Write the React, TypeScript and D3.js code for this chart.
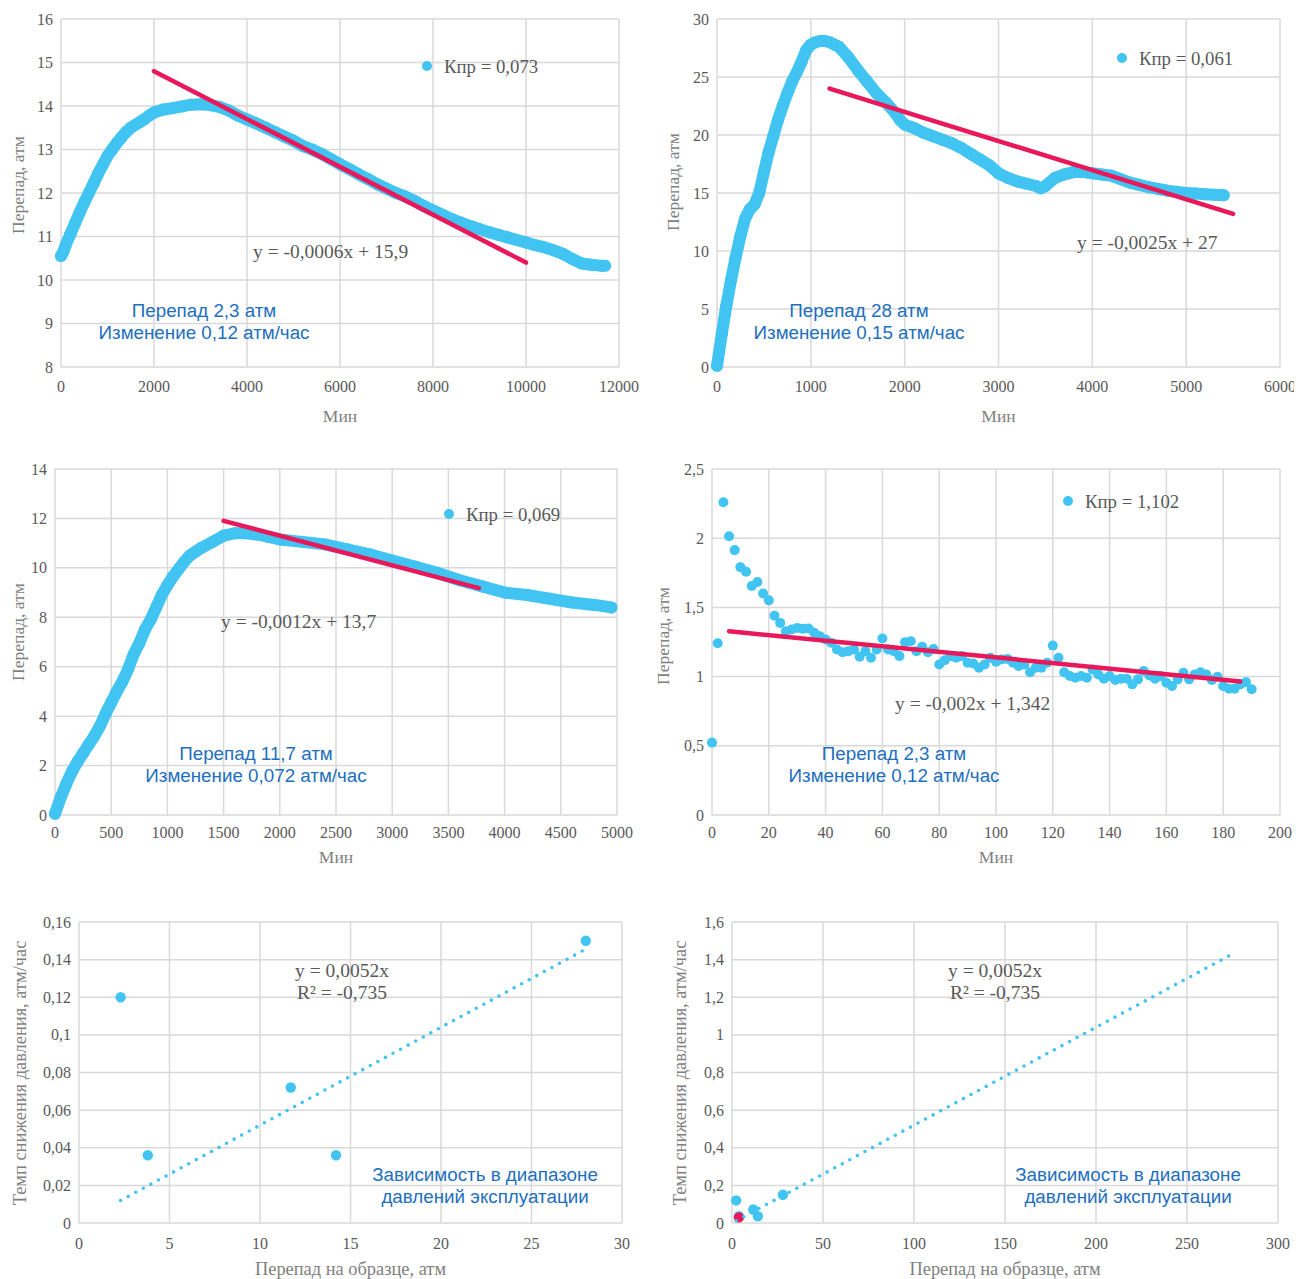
import React from 'react';
import * as d3 from 'd3';

// ---------- DATA ----------
// Panel 1 (dense series): minutes / pressure drop, atm
const P1_X = [0, 50, 100, 200, 300, 400, 500, 600, 700, 800, 900, 1000, 1100, 1200, 1300, 1400, 1500, 1600, 1700, 1800, 1900, 2000, 2200, 2400, 2600, 2800, 3000, 3200, 3400, 3600, 3800, 4000, 4200, 4400, 4600, 4800, 5000, 5200, 5400, 5600, 5800, 6000, 6200, 6400, 6600, 6800, 7000, 7200, 7400, 7600, 7800, 8000, 8200, 8400, 8600, 8800, 9000, 9200, 9400, 9600, 9800, 10000, 10200, 10400, 10600, 10800, 11000, 11200, 11400, 11600, 11700];
const P1_Y = [10.55, 10.65, 10.8, 11.05, 11.3, 11.55, 11.78, 12.0, 12.22, 12.45, 12.65, 12.85, 13.0, 13.15, 13.28, 13.4, 13.5, 13.57, 13.63, 13.7, 13.78, 13.85, 13.92, 13.95, 13.99, 14.03, 14.04, 14.02, 13.98, 13.9, 13.78, 13.69, 13.6, 13.5, 13.4, 13.3, 13.2, 13.08, 13.0, 12.9, 12.78, 12.66, 12.55, 12.43, 12.32, 12.2, 12.1, 12.0, 11.92, 11.82, 11.7, 11.6, 11.5, 11.4, 11.32, 11.24, 11.17, 11.1, 11.04, 10.98, 10.92, 10.86, 10.8, 10.75, 10.68, 10.6, 10.48, 10.38, 10.35, 10.33, 10.33];
const P1_TREND_X = [2000, 10000];
const P1_TREND_Y = [14.8, 10.4];

// Panel 2
const P2_X = [0, 50, 100, 150, 200, 250, 300, 350, 400, 450, 500, 550, 600, 650, 700, 750, 800, 850, 900, 950, 1000, 1050, 1100, 1150, 1200, 1250, 1300, 1400, 1500, 1600, 1700, 1800, 1900, 1950, 2000, 2100, 2200, 2300, 2400, 2500, 2600, 2700, 2800, 2900, 3000, 3100, 3200, 3300, 3400, 3450, 3500, 3600, 3700, 3800, 3900, 4000, 4100, 4200, 4300, 4400, 4500, 4600, 4700, 4800, 4900, 5000, 5100, 5200, 5300, 5400];
const P2_Y = [0.1, 2.8, 5.3, 7.5, 9.5, 11.3, 12.8, 13.6, 14.0, 15.0, 16.8, 18.5, 19.9, 21.3, 22.5, 23.6, 24.6, 25.4, 26.3, 27.3, 27.8, 28.0, 28.1, 28.1, 28.0, 27.8, 27.6, 26.7, 25.6, 24.6, 23.6, 22.8, 21.9, 21.3, 20.9, 20.6, 20.2, 19.9, 19.6, 19.3, 18.9, 18.4, 17.9, 17.4, 16.7, 16.3, 16.0, 15.8, 15.6, 15.4, 15.6, 16.3, 16.6, 16.8, 16.8, 16.7, 16.6, 16.5, 16.2, 15.9, 15.7, 15.5, 15.35, 15.2, 15.1, 15.0, 14.95, 14.9, 14.85, 14.8];
const P2_TREND_X = [1200, 5500];
const P2_TREND_Y = [24.0, 13.2];

// Panel 3
const P3_X = [0, 50, 100, 150, 200, 250, 300, 350, 400, 450, 500, 550, 600, 650, 700, 750, 800, 850, 900, 950, 1000, 1050, 1100, 1150, 1200, 1250, 1300, 1400, 1500, 1600, 1700, 1800, 1900, 2000, 2200, 2400, 2600, 2800, 3000, 3200, 3400, 3600, 3800, 4000, 4200, 4400, 4600, 4800, 4950];
const P3_Y = [0.05, 0.7, 1.25, 1.75, 2.15, 2.5, 2.85, 3.2, 3.6, 4.1, 4.55, 5.0, 5.4, 5.9, 6.5, 6.95, 7.5, 7.9, 8.4, 8.9, 9.3, 9.65, 9.95, 10.25, 10.5, 10.65, 10.8, 11.05, 11.3, 11.4, 11.4, 11.35, 11.25, 11.15, 11.05, 10.95, 10.75, 10.55, 10.3, 10.05, 9.8, 9.5, 9.25, 9.0, 8.9, 8.75, 8.6, 8.5, 8.4];
const P3_TREND_X = [1500, 3770];
const P3_TREND_Y = [11.9, 9.18];

// Panel 4
const P4_X = [0, 2, 4, 6, 8, 10, 12, 14, 16, 18, 20, 22, 24, 26, 28, 30, 32, 34, 36, 38, 40, 42, 44, 46, 48, 50, 52, 54, 56, 58, 60, 62, 64, 66, 68, 70, 72, 74, 76, 78, 80, 82, 84, 86, 88, 90, 92, 94, 96, 98, 100, 102, 104, 106, 108, 110, 112, 114, 116, 118, 120, 122, 124, 126, 128, 130, 132, 134, 136, 138, 140, 142, 144, 146, 148, 150, 152, 154, 156, 158, 160, 162, 164, 166, 168, 170, 172, 174, 176, 178, 180, 182, 184, 186, 188, 190];
const P4_Y = [0.523, 1.241, 2.26, 2.014, 1.914, 1.791, 1.757, 1.654, 1.683, 1.601, 1.551, 1.44, 1.388, 1.328, 1.34, 1.352, 1.345, 1.347, 1.316, 1.292, 1.268, 1.244, 1.196, 1.176, 1.184, 1.196, 1.143, 1.184, 1.136, 1.196, 1.275, 1.196, 1.184, 1.148, 1.249, 1.256, 1.184, 1.215, 1.176, 1.2, 1.088, 1.119, 1.148, 1.136, 1.148, 1.1, 1.095, 1.064, 1.088, 1.136, 1.107, 1.124, 1.128, 1.1, 1.076, 1.088, 1.032, 1.064, 1.064, 1.1, 1.224, 1.136, 1.032, 1.004, 0.992, 1.004, 0.992, 1.052, 1.016, 0.984, 1.004, 0.975, 0.984, 0.984, 0.944, 0.98, 1.04, 1.008, 0.984, 1.004, 0.956, 0.932, 0.98, 1.028, 0.98, 1.016, 1.032, 1.016, 0.975, 0.999, 0.932, 0.912, 0.912, 0.944, 0.96, 0.908];
const P4_TREND_X = [6, 186];
const P4_TREND_Y = [1.328, 0.965];

// Panels 5 & 6: drop on sample (atm) vs pressure decline rate (atm/h)
const P5_X = [2.3, 3.8, 11.7, 14.2, 28];
const P5_Y = [0.12, 0.036, 0.072, 0.036, 0.15];
const P5_TREND_X = [2.3, 28];
const P5_TREND_Y = [0.01196, 0.1456];
const P6_X = [2.3, 3.8, 11.7, 14.2, 28];
const P6_Y = [0.12, 0.036, 0.072, 0.036, 0.15];
const P6_RED_X = [3.8];
const P6_RED_Y = [0.03];
const P6_TREND_X = [2.3, 275];
const P6_TREND_Y = [0.01196, 1.43];

// Ticks
const T1_X = [0, 2000, 4000, 6000, 8000, 10000, 12000];
const T1_Y = [8, 9, 10, 11, 12, 13, 14, 15, 16];
const T2_X = [0, 1000, 2000, 3000, 4000, 5000, 6000];
const T2_Y = [0, 5, 10, 15, 20, 25, 30];
const T3_X = [0, 500, 1000, 1500, 2000, 2500, 3000, 3500, 4000, 4500, 5000];
const T3_Y = [0, 2, 4, 6, 8, 10, 12, 14];
const T4_X = [0, 20, 40, 60, 80, 100, 120, 140, 160, 180, 200];
const T4_Y = [0, 0.5, 1, 1.5, 2, 2.5];
const T5_X = [0, 5, 10, 15, 20, 25, 30];
const T5_Y = [0, 0.02, 0.04, 0.06, 0.08, 0.1, 0.12, 0.14, 0.16];
const T6_X = [0, 50, 100, 150, 200, 250, 300];
const T6_Y = [0, 0.2, 0.4, 0.6, 0.8, 1, 1.2, 1.4, 1.6];

// Texts
const LEGENDS = ['Кпр = 0,073', 'Кпр = 0,061', 'Кпр = 0,069', 'Кпр = 1,102'];
const EQUATIONS = ['y = -0,0006x + 15,9', 'y = -0,0025x + 27', 'y = -0,0012x + 13,7', 'y = -0,002x + 1,342'];
const NOTES = [
  ['Перепад 2,3 атм', 'Изменение 0,12 атм/час'],
  ['Перепад 28 атм', 'Изменение 0,15 атм/час'],
  ['Перепад 11,7 атм', 'Изменение 0,072 атм/час'],
  ['Перепад 2,3 атм', 'Изменение 0,12 атм/час'],
];
const REG_EQ = ['y = 0,0052x', 'R² = -0,735'];
const REG_NOTE = ['Зависимость в диапазоне', 'давлений эксплуатации'];
const X_TITLE_TIME = 'Мин';
const Y_TITLE_DROP = 'Перепад, атм';
const X_TITLE_REG = 'Перепад на образце, атм';
const Y_TITLE_REG = 'Темп снижения давления, атм/час';

// ---------- STYLE ----------
const BLUE = '#41C4F1';
const RED = '#E8185A';
const GRID = '#D9D9D9';
const TICK = '#595959';
const NOTE_BLUE = '#1E6FC0';
const SERIF = '"Liberation Serif", "Times New Roman", serif';
const SANS = '"Liberation Sans", Arial, sans-serif';

const fmt = (v: number) => String(v).replace('.', ',');

type Cfg = {
  left: number; right: number; top: number; bottom: number;
  xDomain: [number, number]; yDomain: [number, number];
  xTicks: number[]; yTicks: number[];
  xs: number[]; ys: number[];
  dense?: boolean;
  r: number;
  trendX: number[]; trendY: number[]; dotted?: boolean;
  redX?: number[]; redY?: number[];
  xTitle: string; yTitle: string; yTitleX: number; yTitleY: number;
  xTickDy: number; xTitleY: number; titleSize: number;
  legend?: { text: string; x: number; y: number };
  equation: { lines: string[]; x: number; y: number; anchor: string };
  note: { lines: string[]; x: number; y: number };
  clipRight?: number;
  id: string;
};

function Panel({ c }: { c: Cfg }) {
  const x = d3.scaleLinear().domain(c.xDomain).range([c.left, c.right]);
  const y = d3.scaleLinear().domain(c.yDomain).range([c.bottom, c.top]);
  const pts = c.xs.map((v, i) => [v, c.ys[i]] as [number, number]);
  const line = d3.line<[number, number]>().x(d => x(d[0])).y(d => y(d[1]));
  const trend = c.trendX.map((v, i) => [v, c.trendY[i]] as [number, number]);
  return (
    <g clipPath={c.clipRight ? `url(#clip-${c.id})` : undefined}>
      {c.clipRight && (
        <defs>
          <clipPath id={`clip-${c.id}`}>
            <rect x={0} y={0} width={c.clipRight} height={1279} />
          </clipPath>
        </defs>
      )}
      {c.xTicks.map(t => (
        <line key={'gx' + t} x1={x(t)} x2={x(t)} y1={c.top} y2={c.bottom} stroke={GRID} strokeWidth={1.5} />
      ))}
      {c.yTicks.map(t => (
        <line key={'gy' + t} x1={c.left} x2={c.right} y1={y(t)} y2={y(t)} stroke={GRID} strokeWidth={1.5} />
      ))}
      {c.yTicks.map(t => (
        <text key={'ty' + t} x={c.left - 8} y={y(t)} dy="0.35em" textAnchor="end" fontFamily={SERIF} fontSize={16} fill={TICK}>{fmt(t)}</text>
      ))}
      {c.xTicks.map(t => (
        <text key={'tx' + t} x={x(t)} y={c.bottom + c.xTickDy} textAnchor="middle" fontFamily={SERIF} fontSize={16} fill={TICK}>{fmt(t)}</text>
      ))}
      <text x={(c.left + c.right) / 2} y={c.xTitleY} textAnchor="middle" fontFamily={SERIF} fontSize={c.titleSize} fill="#7F7F7F">{c.xTitle}</text>
      <text transform={`translate(${c.yTitleX},${c.yTitleY}) rotate(-90)`} dy="0.35em" textAnchor="middle" fontFamily={SERIF} fontSize={c.titleSize} fill="#7F7F7F">{c.yTitle}</text>

      {c.dense && (
        <path d={line(pts) || ''} fill="none" stroke={BLUE} strokeWidth={c.r * 2} strokeLinejoin="round" strokeLinecap="round" />
      )}
      {pts.map((p, i) => (
        <circle key={'p' + i} cx={x(p[0])} cy={y(p[1])} r={c.r} fill={BLUE} />
      ))}
      {c.redX && c.redX.map((v, i) => (
        <circle key={'r' + i} cx={x(v)} cy={y(c.redY![i])} r={c.r} fill={RED} />
      ))}
      {c.dotted ? (
        <path d={line(trend) || ''} fill="none" stroke={BLUE} strokeWidth={3.6} strokeLinecap="round" strokeDasharray="0 8.6" />
      ) : (
        <path d={line(trend) || ''} fill="none" stroke={RED} strokeWidth={4.5} strokeLinecap="round" />
      )}

      {c.legend && (
        <g>
          <circle cx={c.legend.x} cy={c.legend.y} r={5} fill={BLUE} />
          <text x={c.legend.x + 17} y={c.legend.y} dy="0.35em" fontFamily={SERIF} fontSize={18.8} fill={TICK}>{c.legend.text}</text>
        </g>
      )}
      {c.equation.lines.map((l, i) => (
        <text key={'eq' + i} x={c.equation.x} y={c.equation.y + i * 22} dy="0.35em" textAnchor={c.equation.anchor} fontFamily={SERIF} fontSize={19.5} fill={TICK}>{l}</text>
      ))}
      {c.note.lines.map((l, i) => (
        <text key={'n' + i} x={c.note.x} y={c.note.y + i * 22} dy="0.35em" textAnchor="middle" fontFamily={SANS} fontSize={18.8} fill={NOTE_BLUE}>{l}</text>
      ))}
    </g>
  );
}

const panels: Cfg[] = [
  {
    id: 'p1', left: 61, right: 619, top: 19, bottom: 367,
    xDomain: [0, 12000], yDomain: [8, 16], xTicks: T1_X, yTicks: T1_Y,
    xs: P1_X, ys: P1_Y, dense: true, r: 6,
    trendX: P1_TREND_X, trendY: P1_TREND_Y,
    xTitle: X_TITLE_TIME, yTitle: Y_TITLE_DROP, yTitleX: 18, yTitleY: 185,
    xTickDy: 25, xTitleY: 422, titleSize: 17.5,
    legend: { text: LEGENDS[0], x: 427, y: 66 },
    equation: { lines: [EQUATIONS[0]], x: 253, y: 251, anchor: 'start' },
    note: { lines: NOTES[0], x: 204, y: 310 },
  },
  {
    id: 'p2', left: 717, right: 1280, top: 19, bottom: 367,
    xDomain: [0, 6000], yDomain: [0, 30], xTicks: T2_X, yTicks: T2_Y,
    xs: P2_X, ys: P2_Y, dense: true, r: 6,
    trendX: P2_TREND_X, trendY: P2_TREND_Y,
    xTitle: X_TITLE_TIME, yTitle: Y_TITLE_DROP, yTitleX: 673, yTitleY: 182,
    xTickDy: 25, xTitleY: 422, titleSize: 17.5,
    legend: { text: LEGENDS[1], x: 1122, y: 58 },
    equation: { lines: [EQUATIONS[1]], x: 1077, y: 242, anchor: 'start' },
    note: { lines: NOTES[1], x: 859, y: 310 },
    clipRight: 1294,
  },
  {
    id: 'p3', left: 55, right: 617, top: 469, bottom: 815,
    xDomain: [0, 5000], yDomain: [0, 14], xTicks: T3_X, yTicks: T3_Y,
    xs: P3_X, ys: P3_Y, dense: true, r: 6,
    trendX: P3_TREND_X, trendY: P3_TREND_Y,
    xTitle: X_TITLE_TIME, yTitle: Y_TITLE_DROP, yTitleX: 18, yTitleY: 632,
    xTickDy: 23, xTitleY: 863, titleSize: 17.5,
    legend: { text: LEGENDS[2], x: 449, y: 514 },
    equation: { lines: [EQUATIONS[2]], x: 221, y: 621, anchor: 'start' },
    note: { lines: NOTES[2], x: 256, y: 753 },
  },
  {
    id: 'p4', left: 712, right: 1280, top: 469, bottom: 815,
    xDomain: [0, 200], yDomain: [0, 2.5], xTicks: T4_X, yTicks: T4_Y,
    xs: P4_X, ys: P4_Y, r: 5,
    trendX: P4_TREND_X, trendY: P4_TREND_Y,
    xTitle: X_TITLE_TIME, yTitle: Y_TITLE_DROP, yTitleX: 663, yTitleY: 636,
    xTickDy: 23, xTitleY: 863, titleSize: 17.5,
    legend: { text: LEGENDS[3], x: 1068, y: 501 },
    equation: { lines: [EQUATIONS[3]], x: 895, y: 703, anchor: 'start' },
    note: { lines: NOTES[3], x: 894, y: 753 },
  },
  {
    id: 'p5', left: 79, right: 622, top: 922, bottom: 1223,
    xDomain: [0, 30], yDomain: [0, 0.16], xTicks: T5_X, yTicks: T5_Y,
    xs: P5_X, ys: P5_Y, r: 5.2,
    trendX: P5_TREND_X, trendY: P5_TREND_Y, dotted: true,
    xTitle: X_TITLE_REG, yTitle: Y_TITLE_REG, yTitleX: 20, yTitleY: 1073,
    xTickDy: 26, xTitleY: 1275, titleSize: 18.4,
    equation: { lines: REG_EQ, x: 342, y: 970, anchor: 'middle' },
    note: { lines: REG_NOTE, x: 485, y: 1174 },
  },
  {
    id: 'p6', left: 732, right: 1278, top: 922, bottom: 1223,
    xDomain: [0, 300], yDomain: [0, 1.6], xTicks: T6_X, yTicks: T6_Y,
    xs: P6_X, ys: P6_Y, r: 5.2,
    redX: P6_RED_X, redY: P6_RED_Y,
    trendX: P6_TREND_X, trendY: P6_TREND_Y, dotted: true,
    xTitle: X_TITLE_REG, yTitle: Y_TITLE_REG, yTitleX: 680, yTitleY: 1073,
    xTickDy: 26, xTitleY: 1275, titleSize: 18.4,
    equation: { lines: REG_EQ, x: 995, y: 970, anchor: 'middle' },
    note: { lines: REG_NOTE, x: 1128, y: 1174 },
  },
];

export default function App() {
  return (
    <svg width={1303} height={1279} style={{ position: 'absolute', left: 0, top: 0, background: '#fff' }}>
      <rect x={0} y={0} width={1303} height={1279} fill="#fff" />
      {panels.map(p => <Panel key={p.id} c={p} />)}
    </svg>
  );
}
